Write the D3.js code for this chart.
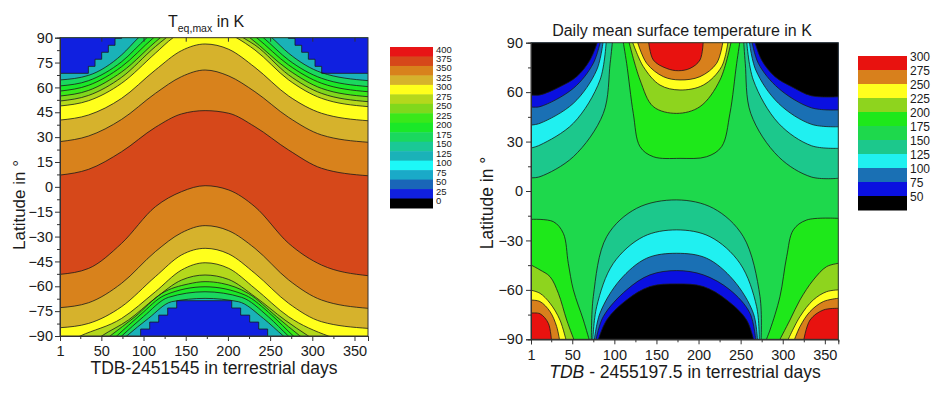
<!DOCTYPE html>
<html>
<head>
<meta charset="utf-8">
<script src="https://cdnjs.cloudflare.com/ajax/libs/d3/7.8.5/d3.min.js"></script>
<style>
  body { margin: 0; background: #fff; }
  svg { display: block; font-family: "Liberation Sans", Arial, sans-serif; }
</style>
</head>
<body>
<svg id="chart" width="940" height="395"></svg>
<script>
const teqLegendLabels = [400, 375, 350, 325, 300, 275, 250, 225, 200, 175, 150, 125, 100, 75, 50, 25, 0];
const teqLegendColors = ["#e81416", "#d6481a", "#d8821c", "#d6b22c", "#ffff1c", "#b4d81c", "#80d81c", "#3ae81a",
                         "#1ae828", "#1ad85e", "#1ac896", "#1ab2b8", "#1cf8f8", "#1aaac8", "#1a66b8", "#1020e0", "#000000"];
const teqPeakLevel = 375;

// boundaries north of the warm band, warm -> cold
const teqNorthLevels = [350, 325, 300, 275, 250, 225, 200, 175, 125];
const teqNorth = [
  [[1, 7.1], [35, 10.6], [74, 21.2], [114, 35.9], [145, 44.0], [173, 46.0], [201, 44.4], [232, 36.3], [272, 22.2], [311, 11.2], [366, 6.7]],
  [[1, 27.3], [35, 30.7], [74, 40.7], [114, 56.4], [145, 66.5], [173, 70.5], [201, 66.9], [232, 57.4], [272, 41.9], [311, 31.3], [366, 26.9]],
  [[1, 40.3], [35, 43.4], [74, 53.4], [114, 70.5], [145, 82.2], [173, 86.2], [201, 83.0], [232, 72.1], [272, 54.8], [311, 44.4], [366, 39.9]],
  [[1, 48.8], [35, 52.0], [74, 62.5], [114, 80.6], [135, 90], [173, 98], [210, 90], [232, 82.6], [272, 64.5], [311, 53.4], [366, 48.4]],
  [[1, 51.8], [35, 55.2], [74, 66.1], [114, 84.6], [127, 90], [173, 104], [218, 90], [232, 85.6], [272, 67.5], [311, 56.4], [366, 51.4]],
  [[1, 54.8], [35, 58.2], [74, 69.3], [120, 90], [173, 108], [226, 90], [272, 70.5], [311, 59.4], [366, 54.4]],
  [[1, 57.8], [35, 61.3], [74, 72.5], [112, 90], [173, 112], [234, 90], [272, 73.5], [311, 62.5], [366, 57.4]],
  [[1, 60.9], [35, 64.1], [74, 75.5], [104, 90], [173, 115], [242, 90], [272, 76.5], [311, 65.5], [366, 60.5]],
  [[1, 64.5], [35, 67.3], [74, 79.6], [94, 90], [173, 118], [252, 90], [272, 80.6], [311, 68.9], [366, 64.1]]
];
// polar night floor, staircase edge
const teqNorthFloorLevel = 25;
const teqNorthFloor = [[1, 68.5], [34.6, 72.7], [42.5, 77.0], [50.4, 81.2], [58.3, 85.4], [66.2, 89.6], [74.1, 100],
  [271.6, 89.6], [279.5, 85.4], [287.4, 81.2], [295.3, 77.0], [303.2, 72.7], [311.1, 68.5], [366, 68.5]];

// boundaries south of the warm band, warm -> cold
const teqSouthLevels = [350, 325, 300, 275, 250, 225, 200, 175, 125];
const teqSouth = [
  [[1, -52.8], [35, -49.2], [74, -34.1], [114, -12.0], [145, -2.9], [173, 0.7], [201, -1.9], [232, -12.0], [272, -34.1], [311, -47.2], [366, -53.6]],
  [[1, -72.9], [35, -69.9], [74, -58.2], [114, -39.1], [145, -27.7], [173, -23.4], [201, -26.5], [232, -37.1], [272, -56.2], [311, -68.3], [366, -73.3]],
  [[1, -85.0], [35, -82.4], [74, -72.3], [114, -54.2], [145, -41.1], [173, -37.1], [201, -40.5], [232, -52.2], [272, -70.3], [311, -81.4], [366, -85.4]],
  [[1, -96], [25, -90], [74, -79.4], [114, -63.3], [145, -50.2], [173, -45.8], [201, -49.2], [232, -61.3], [272, -78.4], [319, -90], [366, -96]],
  [[1, -110], [50.4, -90], [82, -80.4], [113.6, -67.3], [145.2, -56.2], [172.9, -53.2], [200.5, -55.8], [232.1, -66.3], [267.7, -80.4], [295.4, -90], [366, -110]],
  [[1, -115], [60.3, -90], [89.9, -78.4], [121.5, -64.3], [153.1, -58.6], [172.9, -57.2], [192.6, -58.2], [224.2, -64.3], [257.8, -78.4], [285.5, -90], [366, -115]],
  [[1, -120], [68.2, -90], [95.8, -77.4], [125.5, -65.3], [172.9, -60.3], [220.3, -65.3], [251.9, -77.4], [277.6, -90], [366, -120]],
  [[1, -125], [74.1, -90], [99.8, -78.4], [129.4, -66.7], [172.9, -63.3], [216.3, -66.7], [247.9, -78.4], [271.6, -90], [366, -125]],
  [[1, -130], [80, -90], [105.7, -79.4], [133.4, -69.3], [172.9, -67.3], [212.4, -69.3], [242, -79.4], [265.7, -90], [366, -130]]
];
const teqSouthFloorLevel = 25;
const teqSouthFloor = [[1, -100], [86, -100], [96.6, -85.8], [107.3, -81.6], [118, -77.4], [128.6, -73.1], [139.3, -68.7],
  [204.5, -73.1], [215.1, -77.4], [225.8, -81.6], [236.5, -85.8], [247.1, -100], [366, -100]];

// ---------- Right panel: daily mean surface temperature ----------
const meanLegendLabels = [300, 275, 250, 225, 200, 175, 150, 125, 100, 75, 50];
const meanLegendColors = ["#e8120f", "#d8801c", "#ffff1e", "#8ed41e", "#1ee81a", "#1ed84c", "#1cc88c",
                          "#20f0f0", "#1a70b4", "#0a10e0", "#000000"];
const meanBackgroundLevel = 175;
const coldLevels = [150, 125, 100, 75, 50];
const warmLevels = [200, 225, 250, 275, 300];

// polar night, north-west corner (left edge -> top edge)
const meanNorthWest = [
  [[1, 8.0], [11.7, 8.7], [51.3, 20.8], [86.9, 47.1], [95, 77.5], [98, 92]],
  [[1, 26.1], [11.7, 27.9], [51.3, 41.1], [83, 67.4], [90.5, 92]],
  [[1, 40.0], [11.7, 41.1], [51.3, 53.2], [79, 73.4], [87, 92]],
  [[1, 51.0], [11.7, 51.2], [51.3, 62.3], [75, 77.5], [84, 92]],
  [[1, 58.3], [11.7, 58.3], [35.4, 63.3], [55.2, 69.4], [71.1, 79.5], [81, 92]]
];
// polar night, north-east corner (right edge -> top edge)
const meanNorthEast = [
  [[366, 7.7], [334, 8.5], [295, 20.8], [262, 47.1], [255.5, 77.5], [253.5, 92]],
  [[366, 25.9], [334, 27.5], [295, 41.1], [265, 67.4], [257, 92]],
  [[366, 39.0], [334, 40.5], [295, 53.2], [268, 73.4], [260, 92]],
  [[366, 49.2], [334, 50.5], [295, 62.3], [271, 77.5], [263, 92]],
  [[366, 57.2], [334, 57.8], [310.6, 63.3], [290.8, 69.4], [274.9, 79.5], [266, 92]]
];
// polar night, south (bottom edge -> bottom edge)
const meanSouth = [
  [[72.7, -92], [75, -64.1], [90.9, -27.7], [126.5, -10.5], [174, -5.4], [217.6, -10.5], [253.2, -27.7], [273, -64.1], [274.2, -92]],
  [[74.2, -92], [79, -70.2], [98.8, -43.9], [134.4, -27.7], [174, -23.6], [213.6, -27.7], [249.2, -43.9], [269, -70.2], [272.2, -92]],
  [[75.8, -92], [82.9, -74.2], [106.7, -54], [138.4, -40.8], [174, -37.8], [209.6, -40.8], [241.3, -54], [265.1, -74.2], [270.2, -92]],
  [[77.4, -92], [86.9, -76.2], [114.6, -60], [142.3, -50.9], [174, -48.3], [205.7, -50.9], [237.3, -60], [261.1, -74.2], [268.2, -92]],
  [[79.8, -92], [90.9, -78.3], [114.6, -66.1], [142.3, -58], [174, -56.4], [205.7, -58], [233.4, -66.1], [257.1, -78.3], [266.2, -92]]
];
// polar day, north (top edge -> top edge)
const meanNorth = [
  [[110, 92], [114.6, 77.5], [122.5, 47.1], [130.5, 26.9], [146.3, 20.8], [178, 19.8], [209.6, 20.8], [227.4, 26.9], [237.3, 47.1], [245.3, 77.5], [249.5, 92]],
  [[116.6, 92], [130.5, 67.4], [146.3, 51.2], [174, 47.1], [201.7, 51.2], [225.5, 67.4], [239.3, 92]],
  [[120.5, 92], [134.4, 75.5], [154.2, 64.3], [178, 61.3], [205.7, 64.3], [227.4, 75.5], [235.4, 92]],
  [[126.5, 92], [138.4, 77.5], [158.2, 69.4], [178, 67.4], [201.7, 69.4], [221.5, 77.5], [229.4, 92]],
  [[140.3, 92], [146.3, 79.5], [162.1, 74.4], [176, 73], [189.8, 74.4], [201.7, 79.5], [205.7, 92]]
];
// polar day, south-west corner (left edge -> bottom edge)
const meanSouthWest = [
  [[1, -17.2], [27.5, -18.6], [39.4, -25.7], [45.3, -43.9], [51.3, -60], [63.2, -78.3], [71.1, -92]],
  [[1, -44.9], [11.7, -47.9], [23.6, -52], [33.5, -62.1], [43.4, -78.3], [53.3, -92]],
  [[1, -60.2], [11.7, -62.1], [23.6, -68.1], [35.4, -78.3], [43.4, -92]],
  [[1, -66.2], [11.7, -67.1], [23.6, -73.2], [31.5, -82.3], [35.4, -92]],
  [[1, -74.1], [11.7, -74.5], [21.6, -80.3], [25.5, -92]]
];
// polar day, south-east corner (right edge -> bottom edge)
const meanSouthEast = [
  [[366, -16.6], [328.4, -17.6], [312.6, -23.6], [304.7, -39.8], [296.7, -64.1], [284.9, -84.3], [279, -92]],
  [[366, -43.9], [352.1, -45.9], [336.3, -54], [320.5, -66.1], [308.6, -78.3], [294.7, -92]],
  [[366, -60], [352.1, -61.1], [336.3, -66.1], [320.5, -76.2], [304.7, -92]],
  [[366, -65.1], [348.2, -67.1], [332.4, -73.2], [320.5, -82.3], [312.6, -92]],
  [[366, -71.2], [348.2, -72.2], [332.4, -78.3], [324.4, -92]]
];

const dayTicks = [1, 50, 100, 150, 200, 250, 300, 350];
const dayMinorTicks = [25, 75, 125, 175, 225, 275, 325];
const teqLatTicks = [-90, -75, -60, -45, -30, -15, 0, 15, 30, 45, 60, 75, 90];
const teqLatMinor = [-82.5, -67.5, -52.5, -37.5, -22.5, -7.5, 7.5, 22.5, 37.5, 52.5, 67.5, 82.5];
const meanLatTicks = [-90, -60, -30, 0, 30, 60, 90];
const meanLatMinor = [-75, -45, -15, 15, 45, 75];

// ---------- drawing ----------
const svg = d3.select("#chart");
const lineColor = "#1a1a1a";

function colorOf(labels, colors) {
  const m = new Map(labels.map((l, i) => [l, colors[i]]));
  return lvl => m.get(lvl);
}

// closed region: contour line + points outside the plot to close it
function region(x, y, pts, closers, curve) {
  const line = d3.line().x(d => x(d[0])).y(d => y(d[1])).curve(curve);
  return line(pts) + closers.map(p => `L${x(p[0])},${y(p[1])}`).join("") + "Z";
}

function contour(g, x, y, pts, closers, color, curve) {
  g.append("path").attr("d", region(x, y, pts, closers, curve)).attr("fill", color);
}

function strokes(g, x, y, lines, curve) {
  const line = d3.line().x(d => x(d[0])).y(d => y(d[1])).curve(curve);
  g.selectAll(null).data(lines).enter().append("path")
    .attr("d", line)
    .attr("fill", "none")
    .attr("stroke", lineColor)
    .attr("stroke-width", 0.8);
}

function axes(x, y, opt) {
  const [x0, x1] = x.range();
  const [y0, y1] = y.range(); // y0 = bottom

  svg.append("g").attr("transform", `translate(0,${y0})`)
    .call(d3.axisBottom(x).tickValues(dayTicks).tickSize(5).tickPadding(opt.xPad).tickFormat(d3.format("d")));
  svg.append("g").attr("transform", `translate(0,${y0})`)
    .call(d3.axisBottom(x).tickValues(dayMinorTicks).tickSize(3).tickFormat(""));
  svg.append("g").attr("transform", `translate(${x0},0)`)
    .call(d3.axisLeft(y).tickValues(opt.latTicks).tickSize(5).tickPadding(opt.yPad).tickFormat(d3.format("d")));
  svg.append("g").attr("transform", `translate(${x0},0)`)
    .call(d3.axisLeft(y).tickValues(opt.latMinor).tickSize(3).tickFormat(""));
  if (opt.topTicks) {
    svg.append("g").attr("transform", `translate(0,${y1})`)
      .call(d3.axisTop(x).tickValues(dayTicks).tickSize(-4).tickFormat(""))
      .call(g => g.select(".domain").remove());
  }
  svg.selectAll(".tick text").attr("font-family", "Liberation Sans, Arial, sans-serif")
    .attr("font-size", opt.fontSize).attr("fill", "#1a1a1a");
  svg.selectAll(".tick line, .domain").attr("stroke", "#333");

  svg.append("rect").attr("x", x0).attr("y", y1).attr("width", x1 - x0).attr("height", y0 - y1)
    .attr("fill", "none").attr("stroke", "#333").attr("stroke-width", 1);
}

function legend(labels, colors, x, top, w, h, fontSize, labelDy) {
  const g = svg.append("g");
  g.selectAll("rect").data(labels).enter().append("rect")
    .attr("x", x).attr("y", (d, i) => top + i * h)
    .attr("width", w).attr("height", h + 0.5)
    .attr("fill", (d, i) => colors[i]);
  g.selectAll("text").data(labels).enter().append("text")
    .attr("x", x + w + 3).attr("y", (d, i) => top + i * h + labelDy)
    .attr("dominant-baseline", "middle")
    .attr("font-size", fontSize).attr("fill", "#1a1a1a")
    .text(d => d);
}

// ---- left panel ----
{
  const x = d3.scaleLinear().domain([1, 366]).range([60, 368]);
  const y = d3.scaleLinear().domain([-90, 90]).range([336, 37.7]);
  const col = colorOf(teqLegendLabels, teqLegendColors);

  svg.append("clipPath").attr("id", "clipL").append("rect")
    .attr("x", 60).attr("y", 37.7).attr("width", 308).attr("height", 298.3);
  const g = svg.append("g").attr("clip-path", "url(#clipL)");

  g.append("rect").attr("x", 60).attr("y", 37.7).attr("width", 308).attr("height", 298.3).attr("fill", col(teqPeakLevel));
  const smooth = d3.curveMonotoneX;
  teqNorth.forEach((pts, i) => contour(g, x, y, pts, [[366, 140], [1, 140]], col(teqNorthLevels[i]), smooth));
  contour(g, x, y, teqNorthFloor, [[366, 140], [1, 140]], col(teqNorthFloorLevel), d3.curveStepAfter);
  teqSouth.forEach((pts, i) => contour(g, x, y, pts, [[366, -140], [1, -140]], col(teqSouthLevels[i]), smooth));
  contour(g, x, y, teqSouthFloor, [[366, -140], [1, -140]], col(teqSouthFloorLevel), d3.curveStepAfter);

  strokes(g, x, y, teqNorth, smooth);
  strokes(g, x, y, teqSouth, smooth);
  strokes(g, x, y, [teqNorthFloor, teqSouthFloor], d3.curveStepAfter);

  axes(x, y, { latTicks: teqLatTicks, latMinor: teqLatMinor, xPad: 5, yPad: 2, fontSize: 14, topTicks: true });

  const title = svg.append("text").attr("x", 168).attr("y", 27).attr("font-size", 16).attr("fill", "#1a1a1a");
  title.append("tspan").text("T");
  title.append("tspan").attr("font-size", 10.5).attr("dy", 5).text("eq,max");
  title.append("tspan").attr("dy", -5).text(" in K");

  svg.append("text").attr("x", 214).attr("y", 374).attr("text-anchor", "middle")
    .attr("font-size", 17.5).attr("fill", "#1a1a1a").text("TDB-2451545 in terrestrial days");
  svg.append("text").attr("transform", "translate(25,205) rotate(-90)").attr("text-anchor", "middle")
    .attr("font-size", 17).attr("fill", "#1a1a1a").text("Latitude in °");

  legend(teqLegendLabels, teqLegendColors, 390, 47, 43, 9.47, 9.5, 3);
}

// ---- right panel ----
{
  const x = d3.scaleLinear().domain([1, 366]).range([531, 838.3]);
  const y = d3.scaleLinear().domain([-90, 90]).range([339.3, 42.7]);
  const col = colorOf(meanLegendLabels, meanLegendColors);

  svg.append("clipPath").attr("id", "clipR").append("rect")
    .attr("x", 531).attr("y", 42.7).attr("width", 307.3).attr("height", 296.6);
  const g = svg.append("g").attr("clip-path", "url(#clipR)");

  g.append("rect").attr("x", 531).attr("y", 42.7).attr("width", 307.3).attr("height", 296.6).attr("fill", col(meanBackgroundLevel));
  const curve = d3.curveCatmullRom.alpha(0.5);
  const last = p => p[p.length - 1];

  meanNorthWest.forEach((p, i) => contour(g, x, y, p, [[last(p)[0], 130], [-30, 130], [-30, p[0][1]]], col(coldLevels[i]), curve));
  meanNorthEast.forEach((p, i) => contour(g, x, y, p, [[last(p)[0], 130], [400, 130], [400, p[0][1]]], col(coldLevels[i]), curve));
  meanSouth.forEach((p, i) => contour(g, x, y, p, [[last(p)[0], -130], [p[0][0], -130]], col(coldLevels[i]), curve));
  meanNorth.forEach((p, i) => contour(g, x, y, p, [[last(p)[0], 130], [p[0][0], 130]], col(warmLevels[i]), curve));
  meanSouthWest.forEach((p, i) => contour(g, x, y, p, [[last(p)[0], -130], [-30, -130], [-30, p[0][1]]], col(warmLevels[i]), curve));
  meanSouthEast.forEach((p, i) => contour(g, x, y, p, [[last(p)[0], -130], [400, -130], [400, p[0][1]]], col(warmLevels[i]), curve));

  [meanNorthWest, meanNorthEast, meanSouth, meanNorth, meanSouthWest, meanSouthEast]
    .forEach(set => strokes(g, x, y, set, curve));

  axes(x, y, { latTicks: meanLatTicks, latMinor: meanLatMinor, xPad: 5, yPad: 3, fontSize: 14.5, topTicks: false });

  svg.append("text").attr("x", 682).attr("y", 36).attr("text-anchor", "middle")
    .attr("font-size", 16).attr("fill", "#1a1a1a").text("Daily mean surface temperature in K");
  const xt = svg.append("text").attr("x", 685).attr("y", 378).attr("text-anchor", "middle")
    .attr("font-size", 17.5).attr("fill", "#1a1a1a");
  xt.append("tspan").attr("font-style", "italic").text("TDB");
  xt.append("tspan").text(" - 2455197.5 in terrestrial days");
  svg.append("text").attr("transform", "translate(493,203) rotate(-90)").attr("text-anchor", "middle")
    .attr("font-size", 17.5).attr("fill", "#1a1a1a").text("Latitude in °");

  legend(meanLegendLabels, meanLegendColors, 858, 56, 49, 14, 12, 1.5);
}
</script>
</body>
</html>
